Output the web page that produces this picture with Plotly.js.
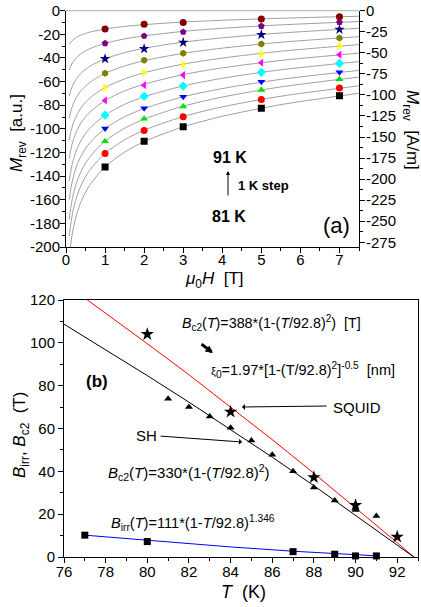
<!DOCTYPE html>
<html><head><meta charset="utf-8">
<script src="https://cdn.plot.ly/plotly-3.0.1.min.js"></script>
<style>html,body{margin:0;padding:0;background:#fff;} #chart{width:421px;height:607px;}</style>
</head><body><div id="chart"></div>
<script>
// ---------- Panel (a): reversible magnetization vs field ----------
const temps = ['81 K','82 K','83 K','84 K','85 K','86 K','87 K','88 K','89 K','90 K','91 K'];
const H_curve = [0.085,0.12,0.18,0.27,0.4,0.6,1,1.5,2,3,4,5.5,7.5];
const curve_81K = [-208.4,-197.7,-185.2,-172.7,-160.5,-148.0,-132.2,-119.7,-110.8,-98.3,-89.4,-79.5,-69.9];
const curve_82K = [-190.8,-181.0,-169.5,-158.0,-146.8,-135.3,-120.8,-109.3,-101.1,-89.6,-81.4,-72.4,-63.6];
const curve_83K = [-176.7,-167.4,-156.5,-145.6,-135.0,-124.2,-110.4,-99.5,-91.8,-80.8,-73.1,-64.5,-56.2];
const curve_84K = [-159.9,-151.4,-141.6,-131.6,-122.1,-112.2,-99.7,-89.8,-82.8,-72.9,-65.9,-58.1,-50.5];
const curve_85K = [-143.9,-136.1,-127.0,-117.9,-109.0,-99.9,-88.4,-79.3,-72.8,-63.7,-57.2,-50.0,-43.1];
const curve_86K = [-125.1,-118.2,-110.1,-102.1,-94.2,-86.2,-76.0,-67.9,-62.2,-54.1,-48.4,-42.1,-35.9];
const curve_87K = [-109.4,-103.2,-95.9,-88.6,-81.5,-74.2,-65.0,-57.7,-52.5,-45.2,-40.1,-34.3,-28.7];
const curve_88K = [-91.0,-85.6,-79.4,-73.2,-67.1,-60.9,-53.0,-46.8,-42.3,-36.1,-31.7,-26.7,-22.0];
const curve_89K = [-72.3,-67.8,-62.7,-57.5,-52.4,-47.2,-40.7,-35.5,-31.8,-26.6,-23.0,-18.9,-14.9];
const curve_90K = [-50.2,-47.0,-43.3,-39.6,-36.0,-32.3,-27.6,-23.9,-21.3,-17.5,-14.9,-12.0,-9.2];
const curve_91K = [-28.7,-26.8,-24.7,-22.5,-20.4,-18.2,-15.5,-13.3,-11.8,-9.6,-8.1,-6.4,-4.7];

const H_points = [1,2,3,5,7];
const pts_81K = [-132.2,-110.4,-98.3,-82.5,-72.0];
const pts_82K = [-120.8,-101.4,-89.8,-75.1,-65.5];
const pts_83K = [-110.4,-91.5,-81.0,-67.2,-58.1];
const pts_84K = [-99.7,-82.5,-72.9,-60.2,-52.2];
const pts_85K = [-88.4,-72.5,-63.8,-52.2,-44.6];
const pts_86K = [-76.0,-63.0,-54.5,-44.0,-37.3];
const pts_87K = [-65.0,-52.5,-45.4,-36.7,-29.9];
const pts_88K = [-53.0,-42.0,-36.1,-28.2,-23.1];
const pts_89K = [-40.7,-32.2,-26.8,-20.3,-15.8];
const pts_90K = [-27.6,-21.4,-18.0,-13.0,-9.8];
const pts_91K = [-15.5,-11.5,-9.9,-7.0,-5.1];

const H_ticks = [0,1,2,3,4,5,6,7];
const H_ticklabels = ['0','1','2','3','4','5','6','7'];
const Mau_ticks = [-200,-180,-160,-140,-120,-100,-80,-60,-40,-20,0];
const Mau_ticklabels = ['-200','-180','-160','-140','-120','-100','-80','-60','-40','-20','0'];
const Mam_ticks = [-275,-250,-225,-200,-175,-150,-125,-100,-75,-50,-25,0];
const Mam_ticklabels = ['-275','-250','-225','-200','-175','-150','-125','-100','-75','-50','-25','0'];

// ---------- Panel (b): Birr, Bc2 vs T ----------
const T_squid = [80,84,88,90,92];
const Bc2_squid = [104.0,67.8,37.2,24.2,9.4];
const T_sh = [81,82,83,84,85,86,87,88,89,90,91];
const Bc2_sh = [73.9,70.0,65.6,60.3,54.4,47.7,40.0,32.5,26.4,22.0,19.2];
const T_irr = [77,80,87,89,90,91];
const Birr = [10.2,7.2,2.5,1.3,0.5,0.5];

const T_fit_squid = [77.0,78,80,82,84,86,88,90,92,92.8];
const Bc2_fit_squid = [120.9,113.9,99.6,85.1,70.1,54.8,39.1,23.1,6.7,0];
const T_fit_sh = [76,78,80,82,84,86,88,90,92,92.8];
const Bc2_fit_sh = [108.7,96.9,84.7,72.3,59.6,46.6,33.3,19.6,5.7,0];
const T_fit_irr = [77,80,84,87,89,91];
const Birr_fit = [10.2,7.7,4.7,2.7,1.5,0.55];

const T_ticks = [76,78,80,82,84,86,88,90,92];
const B_ticks = [0,20,40,60,80,100,120];

// ---------- styles ----------
const FONT = 'Liberation Sans, Arial, sans-serif';
const curves = [curve_81K,curve_82K,curve_83K,curve_84K,curve_85K,curve_86K,curve_87K,curve_88K,curve_89K,curve_90K,curve_91K];
const points = [pts_81K,pts_82K,pts_83K,pts_84K,pts_85K,pts_86K,pts_87K,pts_88K,pts_89K,pts_90K,pts_91K];
const colors = ['#000000','#ff0000','#00e000','#0000ff','#00ffff','#ff00ff','#ffff00','#808000','#000080','#800080','#800000'];
const symbols = ['square','circle','triangle-up','triangle-down','diamond','triangle-left','triangle-right','hexagon','star','pentagon','circle'];
const sizes = [7,7,7,7,7,7,7,7,8,7,7];

const W = 421, Hh = 607;
const px = v => v / W;
const py = v => 1 - v / Hh;

const data = [];
curves.forEach((c,i) => data.push({x:H_curve, y:c, type:'scatter', mode:'lines', line:{color:'#a0a0a0', width:1, shape:'spline', smoothing:0.8}, xaxis:'x', yaxis:'y', hoverinfo:'skip', name:temps[i]}));
points.forEach((p,i) => data.push({x:H_points, y:p, type:'scatter', mode:'markers', marker:{color:colors[i], symbol:symbols[i], size:sizes[i], line:{width:0}}, xaxis:'x', yaxis:'y', name:temps[i]}));
data.push({x:[], y:[], type:'scatter', mode:'markers', xaxis:'x', yaxis:'y2', showlegend:false});

data.push({x:T_fit_squid, y:Bc2_fit_squid, type:'scatter', mode:'lines', line:{color:'#ff0000', width:1}, xaxis:'x3', yaxis:'y3'});
data.push({x:T_fit_sh, y:Bc2_fit_sh, type:'scatter', mode:'lines', line:{color:'#000000', width:1}, xaxis:'x3', yaxis:'y3'});
data.push({x:T_fit_irr, y:Birr_fit, type:'scatter', mode:'lines', line:{color:'#0000ff', width:1}, xaxis:'x3', yaxis:'y3'});
data.push({x:T_squid, y:Bc2_squid, type:'scatter', mode:'markers', marker:{color:'#000', symbol:'star', size:10}, xaxis:'x3', yaxis:'y3', cliponaxis:false});
data.push({x:T_sh, y:Bc2_sh, type:'scatter', mode:'markers', marker:{color:'#000', symbol:'triangle-up', size:7}, xaxis:'x3', yaxis:'y3'});
data.push({x:T_irr, y:Birr, type:'scatter', mode:'markers', marker:{color:'#000', symbol:'square', size:7}, xaxis:'x3', yaxis:'y3', cliponaxis:false});

const tickfont = {family:FONT, size:15, color:'#000'};
const baseAxis = {showline:true, linecolor:'#000', linewidth:1, ticks:'outside', ticklen:5, tickwidth:1, tickcolor:'#000', showgrid:false, zeroline:false, tickfont:tickfont, fixedrange:true};

function ann(text, x, y, size, extra) {
  return Object.assign({xref:'paper', yref:'paper', x:px(x), y:py(y), text:text, showarrow:false, xanchor:'left', yanchor:'middle', font:{family:FONT, size:size, color:'#000'}}, extra||{});
}
function arrow(hx, hy, tx, ty, w, head, sz) {
  return {xref:'paper', yref:'paper', x:px(hx), y:py(hy), ax:tx-hx, ay:ty-hy, axref:'pixel', ayref:'pixel', text:'', showarrow:true, arrowhead:head, arrowwidth:w, arrowsize:sz, arrowcolor:'#000', standoff:0, startstandoff:0};
}

const layout = {
  width:W, height:Hh, margin:{l:0,r:0,t:0,b:0}, showlegend:false,
  paper_bgcolor:'#fff', plot_bgcolor:'rgba(0,0,0,0)', font:{family:FONT, color:'#000'},
  xaxis: Object.assign({}, baseAxis, {domain:[px(66), px(359)], range:[0,7.5], anchor:'y', tickmode:'array', tickvals:H_ticks, ticktext:H_ticklabels, ticklabelstandoff:-6,
    minor:{ticks:'outside', ticklen:3, tickcolor:'#000', dtick:0.5, tick0:0}}),
  yaxis: Object.assign({}, baseAxis, {domain:[py(247), py(10.7)], range:[-200,0], anchor:'x', tickmode:'array', tickvals:Mau_ticks, ticktext:Mau_ticklabels, ticklabelstandoff:-3,
    minor:{ticks:'outside', ticklen:3, tickcolor:'#000', dtick:10, tick0:0}}),
  yaxis2: Object.assign({}, baseAxis, {overlaying:'y', side:'right', anchor:'x', range:[-280.6,0], tickmode:'array', tickvals:Mam_ticks, ticktext:Mam_ticklabels, ticklabelstandoff:-2,
    minor:{ticks:'outside', ticklen:3, tickcolor:'#000', dtick:12.5, tick0:0}}),
  xaxis3: Object.assign({}, baseAxis, {domain:[px(64), px(418)], range:[76,93], anchor:'y3', mirror:true, tickmode:'array', tickvals:T_ticks, ticklabelstandoff:-4,
    minor:{ticks:'outside', ticklen:3, tickcolor:'#000', dtick:1, tick0:76}}),
  yaxis3: Object.assign({}, baseAxis, {domain:[py(557), py(300)], range:[0,120], anchor:'x3', mirror:true, tickmode:'array', tickvals:B_ticks,
    minor:{ticks:'outside', ticklen:3, tickcolor:'#000', dtick:10, tick0:0}}),
  shapes: [
    {type:'line', xref:'paper', yref:'paper', x0:px(66), x1:px(359), y0:py(10.7), y1:py(10.7), line:{color:'#b0b0b0', width:1}}
  ],
  annotations: [
    // panel a titles
    ann('<i>μ</i><sub>0</sub><i>H</i>  [T]', 214, 280, 17, {xanchor:'center'}),
    ann('<i>M</i><sub>rev</sub>  [a.u.]', 18, 133, 17, {xanchor:'center', textangle:-90}),
    ann('<i>M</i><sub>rev</sub>  [A/m]', 411, 130, 17, {xanchor:'center', textangle:90}),
    ann('<b>91 K</b>', 211, 157, 16),
    ann('<b>1 K step</b>', 236, 185, 13),
    ann('<b>81 K</b>', 210, 216, 16),
    ann('(a)', 321, 225, 22),
    arrow(228, 171, 228, 197, 1, 2, 0.8),
    // panel b titles
    ann('<i>T</i>  (K)', 243, 592, 18, {xanchor:'center'}),
    ann('<i>B</i><sub>irr</sub>, <i>B</i><sub>c2</sub>  (T)', 21, 435, 17, {xanchor:'center', textangle:-90}),
    ann('<i>B</i><sub>c2</sub>(<i>T</i>)=388*(1-(<i>T</i>/92.8)<sup>2</sup>)  [T]', 180, 323, 14.3),
    ann('<span style="font-size:11px">ξ</span><sub>0</sub>=1.97*[1-(T/92.8)<sup>2</sup>]<sup>-0.5</sup>  [nm]', 209, 370, 14.5),
    ann('SQUID', 331, 407, 15),
    ann('SH', 134, 435, 15),
    ann('<b>(b)</b>', 84, 381, 17),
    ann('<i>B</i><sub>c2</sub>(<i>T</i>)=330*(1-(<i>T</i>/92.8)<sup>2</sup>)', 106, 472, 15),
    ann('<i>B</i><sub>irr</sub>(<i>T</i>)=111*(1-<i>T</i>/92.8)<sup>1.346</sup>', 109, 523, 14.6),
    arrow(213, 353, 200, 343, 3, 2, 0.5),
    arrow(242, 407, 328, 406, 1, 1, 1),
    arrow(242, 442, 159, 436, 1, 1, 1)
  ]
};

Plotly.newPlot('chart', data, layout, {staticPlot:true, displayModeBar:false});
</script>
</body></html>
